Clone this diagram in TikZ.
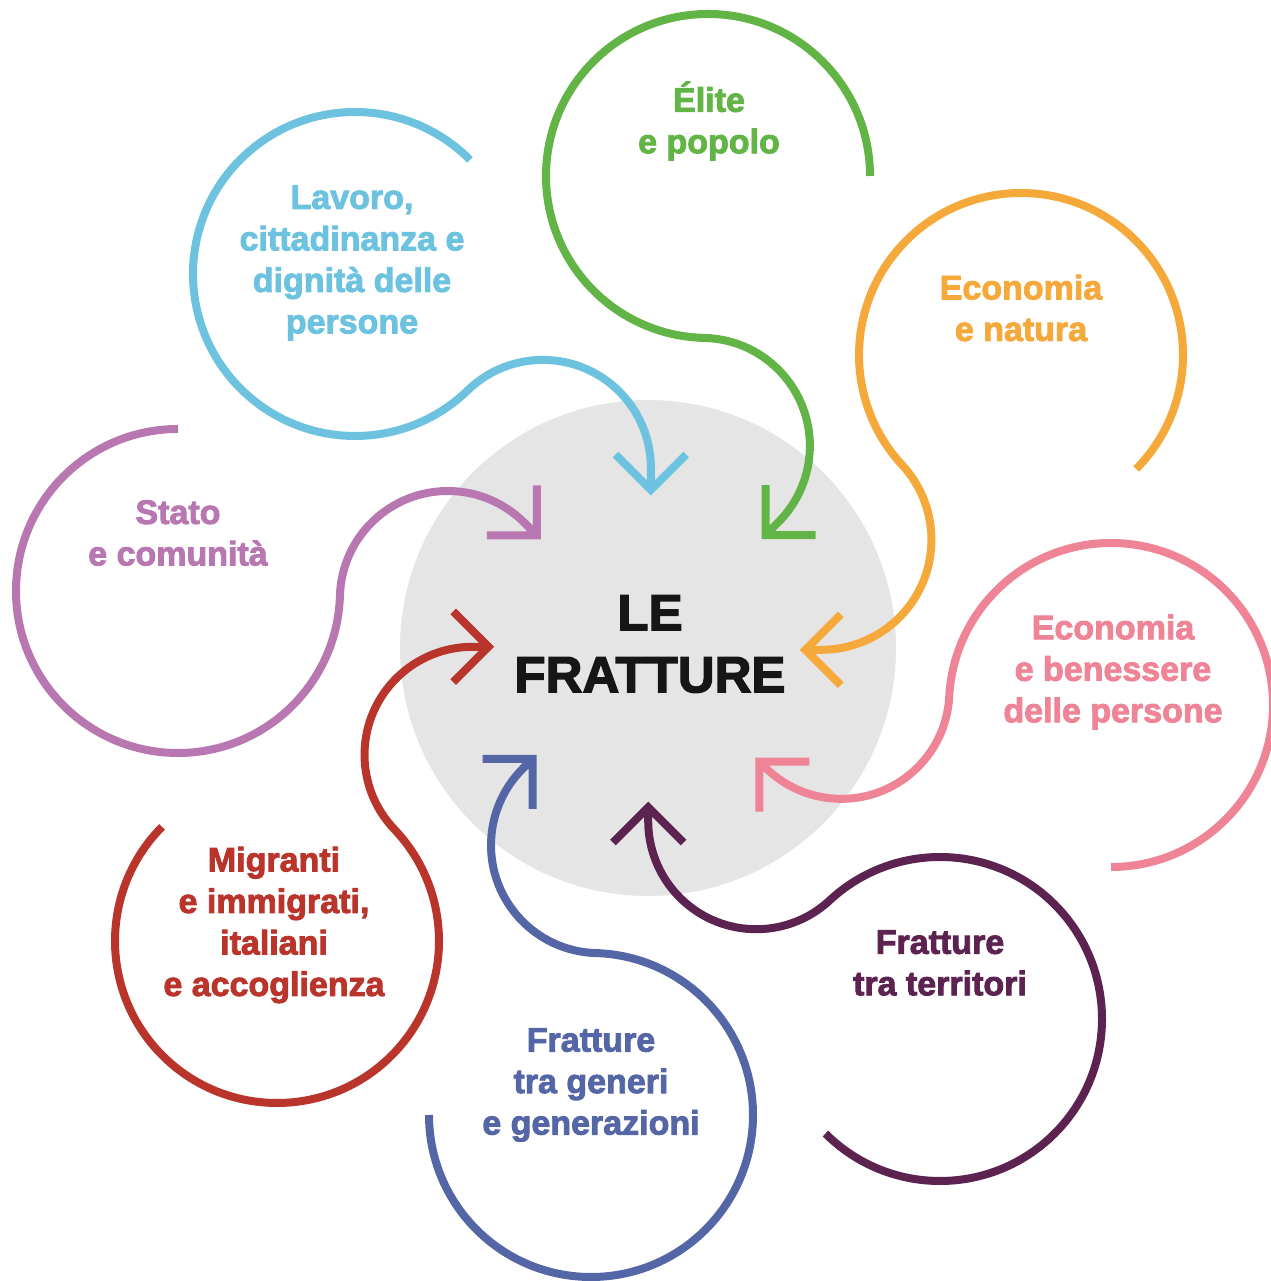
\documentclass[tikz,border=0pt]{standalone}
\usepackage{fontspec}
\setmainfont{Liberation Sans}[BoldFeatures={FakeBold=2.6}]
\definecolor{cBlue}{HTML}{6DC3DF}
\definecolor{cGreen}{HTML}{62B446}
\definecolor{cOrange}{HTML}{F5A93A}
\definecolor{cPink}{HTML}{EE8496}
\definecolor{cPlum}{HTML}{5C2350}
\definecolor{cNavy}{HTML}{5566A6}
\definecolor{cRed}{HTML}{B9342A}
\definecolor{cMauve}{HTML}{B877B0}
\definecolor{cGray}{HTML}{E6E5E5}
\definecolor{cInk}{HTML}{161616}
\tikzset{
  frline/.style={line width=8pt, line join=miter, miter limit=10},
  lbl/.style={font=\bfseries\fontsize{34}{41.5}\selectfont, align=center, inner sep=0pt},
}
% color, Cx, Cy, start angle, tangent angle, hump radius, end angle, tip length, tip name
\newcommand\fratpath[9]{%
  \pgfmathsetmacro\hs{mod(#5+180,360)}%
  \pgfmathsetmacro\he{\hs-mod(\hs-(#7)+720,360)}%
  \pgfmathsetmacro\dd{#7-90}%
  \pgfmathsetmacro\da{\dd+135}%
  \pgfmathsetmacro\db{\dd-135}%
  \draw[frline, draw=#1] (#2,#3) ++(#4:162pt)
    arc[start angle=#4, end angle=#5, radius=162pt]
    arc[start angle=\hs, end angle=\he, radius=#6pt]
    -- ++(\dd:#8pt) coordinate (#9)
    ++(\da:50pt) -- (#9) -- ++(\db:50pt);
}
\begin{document}
\begin{tikzpicture}[x=1pt,y=1pt]
\useasboundingbox (0,0) rectangle (1270,1281);
\node[circle, fill=cGray, minimum size=496pt, inner sep=0pt] (centre) at (648,633) {};
\node[text=cInk, inner sep=0pt, font=\bfseries\fontsize{51}{62}\selectfont, align=center] (title) at (650,637) {LE\\FRATTURE};

\fratpath{cBlue}{355}{1007}{44.8}{314.1}{108}{0}{22}{tipA}
\fratpath{cGreen}{708}{1105}{0}{268.7}{108}{-45}{18}{tipB}
\fratpath{cOrange}{1021}{926}{-44.7}{222.8}{110}{-90}{16}{tipC}
\fratpath{cPink}{1111}{576}{270}{537}{108}{225}{8}{tipD}
\fratpath{cPlum}{940}{262}{225}{492.9}{108}{180}{14}{tipE}
\fratpath{cNavy}{591}{166}{180}{448.3}{108}{135}{14}{tipF}
\fratpath{cRed}{277}{340}{135.2}{403.6}{108}{90}{16}{tipG}
\fratpath{cMauve}{178}{690}{90}{358.3}{108}{45}{18}{tipH}

\node[lbl, text=cBlue] (lavoro) at (352,1018) {Lavoro,\\cittadinanza e\\dignità delle\\persone};
\node[lbl, text=cGreen] (elite) at (709,1160) {Élite\\e popolo};
\node[lbl, text=cOrange] (econat) at (1021,973) {Economia\\e natura};
\node[lbl, text=cPink] (ecoben) at (1113,609) {Economia\\e benessere\\delle persone};
\node[lbl, text=cPlum] (territori) at (940,318) {Fratture\\tra territori};
\node[lbl, text=cNavy] (generi) at (591,196) {Fratture\\tra generi\\e generazioni};
\node[lbl, text=cRed] (migranti) at (274,356) {Migranti\\e immigrati,\\italiani\\e accoglienza};
\node[lbl, text=cMauve] (stato) at (178,748) {Stato\\e comunità};
\end{tikzpicture}
\end{document}
